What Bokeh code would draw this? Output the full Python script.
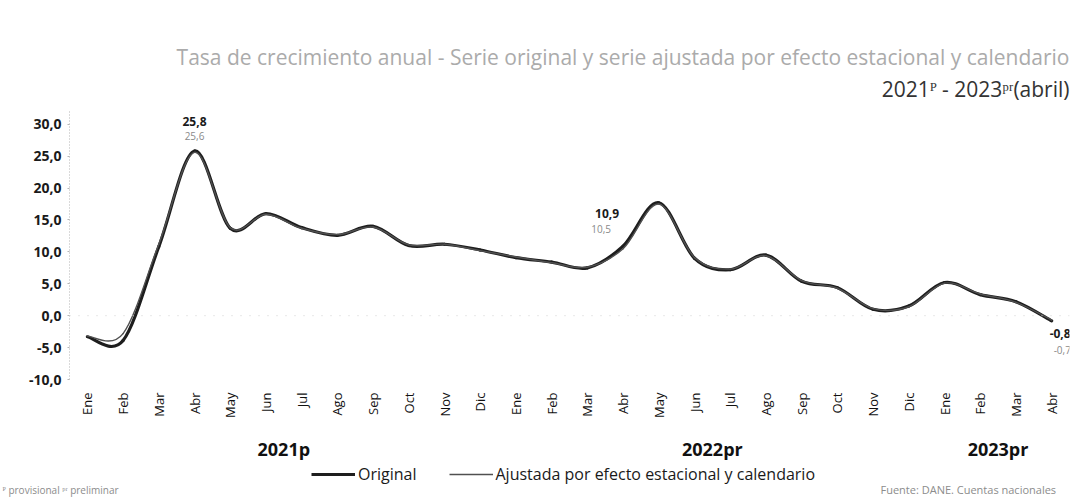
import math
from bokeh.plotting import figure
from bokeh.layouts import column
from bokeh.models import (Range1d, FixedTicker, Label, Span, Legend, LegendItem, LinearAxis, Title)
from bokeh.embed import file_html
from bokeh.resources import INLINE

# ---------------- data ----------------
months = ["Ene", "Feb", "Mar", "Abr", "May", "Jun", "Jul", "Ago", "Sep", "Oct", "Nov", "Dic",
          "Ene", "Feb", "Mar", "Abr", "May", "Jun", "Jul", "Ago", "Sep", "Oct", "Nov", "Dic",
          "Ene", "Feb", "Mar", "Abr"]
years = ["2021p", "2022pr", "2023pr"]
year_counts = [12, 12, 4]
original = [-3.3, -3.9, 10.8, 25.8, 13.7, 16.0, 13.8, 12.6, 14.0, 11.0, 11.2, 10.3,
            9.1, 8.4, 7.5, 10.9, 17.7, 9.0, 7.2, 9.5, 5.4, 4.4, 1.0, 1.5,
            5.2, 3.3, 2.2, -0.8]
adjusted = [-3.2, -2.8, 11.2, 25.6, 13.8, 15.9, 13.7, 12.7, 13.9, 11.1, 11.2, 10.2,
            9.2, 8.3, 7.6, 10.5, 17.5, 9.1, 7.3, 9.4, 5.5, 4.3, 1.1, 1.4,
            5.1, 3.4, 2.1, -0.7]
label_idx = [3, 15, 27]
yticks = [-10, -5, 0, 5, 10, 15, 20, 25, 30]

title1 = "Tasa de crecimiento anual - Serie original y serie ajustada por efecto estacional y calendario"
title2 = "2021\u1d3e - 2023\u1d56\u02b3(abril)"
legend_labels = ["Original", "Ajustada por efecto estacional y calendario"]
note_left = "\u1d3e provisional   \u1d56\u02b3 preliminar"
note_right = "Fuente: DANE. Cuentas nacionales"

FONT = "Open Sans"
C_ORIG = "#1e1e1e"
C_ADJ = "#505050"
W_ORIG = 3.2
W_ADJ = 1.4
TOTAL_W = 1083
MAIN_H = 463
FOOT_H = 38


def fmt(v):
    return ("%.1f" % v).replace(".", ",")


def bezier_segments(xs, ys):
    n = len(xs)
    x0, y0, x1, y1, cx0, cy0, cx1, cy1 = [], [], [], [], [], [], [], []
    for i in range(n - 1):
        xa, ya = xs[i], ys[i]
        xb, yb = xs[i + 1], ys[i + 1]
        xp, yp = (xs[i - 1], ys[i - 1]) if i > 0 else (xa, ya)
        xn, yn = (xs[i + 2], ys[i + 2]) if i + 2 < n else (xb, yb)
        x0.append(xa); y0.append(ya); x1.append(xb); y1.append(yb)
        cx0.append(xa + (xb - xp) / 6.0); cy0.append(ya + (yb - yp) / 6.0)
        cx1.append(xb - (xn - xa) / 6.0); cy1.append(yb - (yn - ya) / 6.0)
    return dict(x0=x0, y0=y0, x1=x1, y1=y1, cx0=cx0, cy0=cy0, cx1=cx1, cy1=cy1)


xs = list(range(len(months)))

p = figure(width=TOTAL_W, height=MAIN_H, output_backend="svg", toolbar_location=None,
           x_range=Range1d(-0.5, len(months) - 0.5), y_range=Range1d(-10, 32),
           min_border_left=69, min_border_right=14, min_border_top=111, min_border_bottom=83)
p.frame_align = False
p.outline_line_color = None
p.xgrid.grid_line_color = None
p.ygrid.grid_line_color = None
p.background_fill_color = "white"
p.border_fill_color = "white"

# y axis
p.yaxis.ticker = FixedTicker(ticks=yticks)
p.yaxis.major_label_overrides = {t: fmt(t) for t in yticks}
p.yaxis.axis_line_color = "#b5b5b5"
p.yaxis.axis_line_dash = "1 2"
p.yaxis.major_tick_line_color = "#b5b5b5"
p.yaxis.major_tick_out = 2
p.yaxis.major_tick_in = 0
p.yaxis.minor_tick_line_color = None
p.yaxis.major_label_text_font = FONT
p.yaxis.major_label_text_font_size = "14px"
p.yaxis.major_label_text_font_style = "bold"
p.yaxis.major_label_text_color = "#1a1a1a"
p.yaxis.major_label_standoff = 6

# x axis (months)
p.xaxis.ticker = FixedTicker(ticks=xs)
p.xaxis.major_label_overrides = {i: m for i, m in enumerate(months)}
p.xaxis.major_label_orientation = math.pi / 2
p.xaxis.axis_line_color = None
p.xaxis.major_tick_line_color = None
p.xaxis.minor_tick_line_color = None
p.xaxis.major_label_text_font = FONT
p.xaxis.major_label_text_font_size = "13px"
p.xaxis.major_label_text_color = "#111111"
p.xaxis.major_label_standoff = 7

# year group axis
centers = []
start = 0
for cnt in year_counts:
    centers.append(start + (cnt - 1) / 2.0)
    start += cnt
yax = LinearAxis(ticker=FixedTicker(ticks=centers),
                 major_label_overrides={c: y for c, y in zip(centers, years)},
                 axis_line_color=None, major_tick_line_color=None, minor_tick_line_color=None,
                 major_label_standoff=10, major_label_text_font=FONT,
                 major_label_text_font_size="18px", major_label_text_font_style="bold",
                 major_label_text_color="#111111")
p.add_layout(yax, "below")

p.add_layout(Span(location=0, dimension="width", line_color="#d0d0d0",
                  line_dash="1 8", line_width=1))

# smoothed series
seg_o = bezier_segments(xs, original)
seg_a = bezier_segments(xs, adjusted)
p.bezier(source=seg_o, x0="x0", y0="y0", x1="x1", y1="y1", cx0="cx0", cy0="cy0",
         cx1="cx1", cy1="cy1", line_color=C_ORIG, line_width=W_ORIG, line_cap="round")
p.bezier(source=seg_a, x0="x0", y0="y0", x1="x1", y1="y1", cx0="cx0", cy0="cy0",
         cx1="cx1", cy1="cy1", line_color=C_ADJ, line_width=W_ADJ, line_cap="round")

# titles (first added sits closest to the plot)
p.add_layout(Title(text=title2, align="right", text_font=FONT, text_font_size="21px",
                   text_font_style="normal", text_color="#333333", standoff=18), "above")
p.add_layout(Title(text=title1, align="right", text_font=FONT, text_font_size="21px",
                   text_font_style="normal", text_color="#ababab", standoff=-15), "above")

# data labels
lab_style = [
    ("center", 0, 30, "center", 0, 16),
    ("right", -4, 33, "right", -12, 20),
    ("left", -2, -13, "left", 2, -30),
]
for k, i in enumerate(label_idx):
    oa, odx, ody, aa, adx, ady = lab_style[k]
    p.add_layout(Label(x=xs[i], y=original[i], text=fmt(original[i]), x_offset=odx, y_offset=ody,
                       text_align=oa, text_baseline="middle", text_font=FONT,
                       text_font_size="12px", text_font_style="bold", text_color="#1a1a1a"))
    p.add_layout(Label(x=xs[i], y=adjusted[i], text=fmt(adjusted[i]), x_offset=adx, y_offset=ady,
                       text_align=aa, text_baseline="middle", text_font=FONT,
                       text_font_size="10px", text_color="#8a8a8a"))

# ---------------- footer: legend + notes (pixel-scaled frame) ----------------
f = figure(width=TOTAL_W, height=FOOT_H, output_backend="svg", toolbar_location=None,
           x_range=Range1d(0, TOTAL_W), y_range=Range1d(0, FOOT_H),
           x_axis_type=None, y_axis_type=None,
           min_border_left=0, min_border_right=0, min_border_top=0, min_border_bottom=0)
f.frame_align = False
f.outline_line_color = None
f.xgrid.grid_line_color = None
f.ygrid.grid_line_color = None
lo = f.line(x=[float("nan")], y=[float("nan")], line_color=C_ORIG, line_width=W_ORIG)
la = f.line(x=[float("nan")], y=[float("nan")], line_color=C_ADJ, line_width=W_ADJ)
legend = Legend(items=[LegendItem(label=legend_labels[0], renderers=[lo]),
                       LegendItem(label=legend_labels[1], renderers=[la])],
                orientation="horizontal", location=(311, 16), border_line_color=None,
                background_fill_alpha=0, padding=0, margin=0, spacing=32,
                glyph_width=44, glyph_height=18, label_height=18, label_standoff=3,
                label_text_font=FONT, label_text_font_size="16px", label_text_color="#1a1a1a")
f.add_layout(legend)
f.add_layout(Label(x=2, y=12, text=note_left, text_align="left", text_baseline="middle",
                   text_font=FONT, text_font_size="10px", text_color="#8c8c8c"))
f.add_layout(Label(x=880, y=12, text=note_right, text_align="left", text_baseline="middle",
                   text_font=FONT, text_font_size="11px", text_color="#8c8c8c"))

layout = column(p, f, spacing=0)
open("out.html", "w").write(file_html(layout, INLINE))
